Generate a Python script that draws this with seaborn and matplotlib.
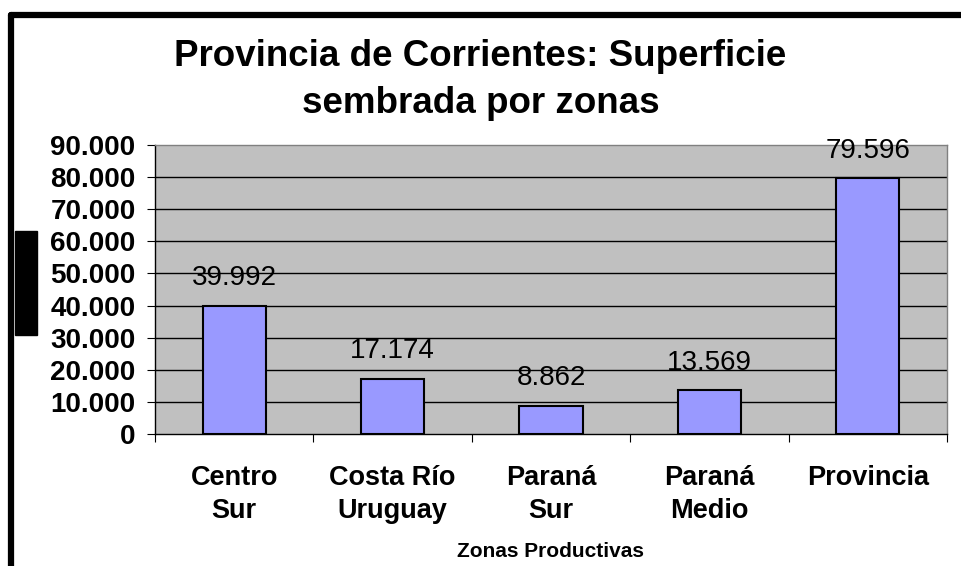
import matplotlib
matplotlib.use("Agg")
import matplotlib.pyplot as plt
import matplotlib.patches as mpatches
import seaborn as sns
import pandas as pd

# Data
zonas = ['Centro\nSur', 'Costa Río\nUruguay', 'Paraná\nSur', 'Paraná\nMedio', 'Provincia']
superficie = [39992, 17174, 8862, 13569, 79596]
yticks = [0, 10000, 20000, 30000, 40000, 50000, 60000, 70000, 80000, 90000]

def miles(v):
    return f"{v:,.0f}".replace(",", ".")

df = pd.DataFrame({'Zona': zonas, 'Superficie': superficie})

sns.set_style("white")
plt.rcParams['font.family'] = ['Liberation Sans', 'DejaVu Sans']
plt.rcParams['text.color'] = 'black'
plt.rcParams['axes.labelcolor'] = 'black'
plt.rcParams['xtick.color'] = 'black'
plt.rcParams['ytick.color'] = 'black'

fig = plt.figure(figsize=(9.61, 5.66), dpi=100)
ax = fig.add_axes([0.1613, 0.2332, 0.8241, 0.5106])
ax.set_facecolor('#C0C0C0')

sns.barplot(data=df, x='Zona', y='Superficie', color='#9999FF', width=0.4,
            edgecolor='black', linewidth=1.5, saturation=1, ax=ax, zorder=3)

ax.set_ylim(0, 90000)
ax.set_xlim(-0.5, 4.5)
ax.set_yticks(yticks)
ax.set_yticklabels([miles(v) for v in yticks], fontsize=20, fontweight='bold')
for v in yticks[1:-1]:
    ax.axhline(v, color='black', linewidth=1, zorder=1)

# bar value labels
for i, v in enumerate(superficie):
    ax.annotate(miles(v), (i, v), xytext=(0, 20), textcoords='offset points',
                ha='center', va='center', fontsize=20, zorder=4)

# category ticks at boundaries, labels centred
ax.set_xticks([-0.5, 0.5, 1.5, 2.5, 3.5, 4.5])
ax.set_xticklabels([])
ax.set_xticks(range(5), minor=True)
ax.set_xticklabels(zonas, minor=True, fontsize=19.5, fontweight='bold')
ax.tick_params(axis='x', which='minor', length=0, pad=22)
ax.tick_params(axis='x', which='major', length=6, direction='out', color='black', bottom=True)
ax.tick_params(axis='y', length=6, direction='out', color='black', left=True, pad=8)
for t in ax.get_xticklabels(minor=True):
    t.set_linespacing(1.38)

ax.set_xlabel('Zonas Productivas', fontsize=15, fontweight='bold', labelpad=13)
ax.set_ylabel('')

for side in ['top', 'right']:
    ax.spines[side].set_color('#808080')
    ax.spines[side].set_linewidth(1)
for side in ['left', 'bottom']:
    ax.spines[side].set_color('black')
    ax.spines[side].set_linewidth(1)

fig.text(0.5, 0.858, 'Provincia de Corrientes: Superficie\nsembrada por zonas',
         ha='center', va='center', fontsize=26.5, fontweight='bold', linespacing=1.45)

# chart frame (top and left edges) and hidden y-label block
fig.add_artist(plt.Line2D([0.0114, 1.0], [0.9735, 0.9735], color='black', linewidth=4.5,
                          transform=fig.transFigure))
fig.add_artist(plt.Line2D([0.0114, 0.0114], [0.0, 0.9735], color='black', linewidth=4.5,
                          transform=fig.transFigure))
fig.add_artist(mpatches.Rectangle((0.0156, 0.408), 0.0229, 0.184, color='black',
                                  transform=fig.transFigure))

fig.savefig('out.png', dpi=100)
